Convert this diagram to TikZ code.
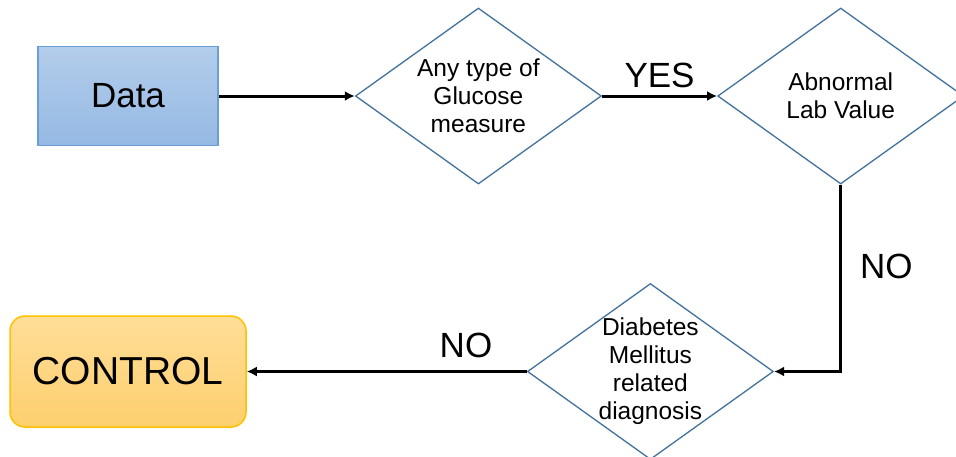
\documentclass[tikz,border=0pt]{standalone}
\usepackage{fontspec}
\setmainfont{Liberation Sans}
\usetikzlibrary{arrows.meta,positioning,shapes.geometric}
\definecolor{FBlueTop}{HTML}{B3CDEB}
\definecolor{FBlueBot}{HTML}{95B9E3}
\definecolor{FBlueLine}{HTML}{6A9FD6}
\definecolor{FGoldTop}{HTML}{FFDE98}
\definecolor{FGoldBot}{HTML}{FDCF6E}
\definecolor{FGoldLine}{HTML}{FFC000}
\definecolor{FSteel}{HTML}{41719C}

\begin{document}
\begin{tikzpicture}[
  node distance=169pt and 136pt,
  box/.style={rectangle,line width=1.5pt,minimum width=180pt,minimum height=99pt,
    font=\fontsize{35}{40}\selectfont,draw=FBlueLine,top color=FBlueTop,bottom color=FBlueBot},
  outcome/.style={box,rounded corners=15pt,minimum width=236pt,minimum height=111pt,
    font=\fontsize{39}{44}\selectfont,draw=FGoldLine,top color=FGoldTop,bottom color=FGoldBot},
  q/.style={diamond,aspect=1.4,draw=FSteel,line width=1.3pt,minimum width=246pt,
    minimum height=176pt,inner sep=-2pt,align=center,font=\fontsize{24.5}{28}\selectfont},
  a/.style={-{Latex[length=10pt,width=10pt]},line width=3pt},
  lab/.style={font=\fontsize{35}{40}\selectfont,inner sep=0pt}
]
  \useasboundingbox (0,0) rectangle (956pt,-456pt);
  \clip (0,0) rectangle (956pt,-456pt);
  \node[box] (data) at (128pt,-96pt) {Data};
  \node[q,right=of data] (glucose) {Any type of\\Glucose\\measure};
  \node[q,right=115pt of glucose] (labval) {Abnormal\\Lab Value};
  \node[outcome,below=of data] (control) {CONTROL};
  \node[q,right=280pt of control] (dmdiag) {Diabetes\\Mellitus\\related\\diagnosis};
  \draw[a] (data.east) -- (glucose.west);
  \draw[a] (glucose.east) -- node[lab,above=7pt]{YES} (labval.west);
  \draw[a] (labval.south) |- node[lab,pos=0.22,right=18pt]{NO} (dmdiag.east);
  \draw[a] (dmdiag.west) -- node[lab,pos=0.217,above=12pt]{NO} (control.east);
\end{tikzpicture}
\end{document}
